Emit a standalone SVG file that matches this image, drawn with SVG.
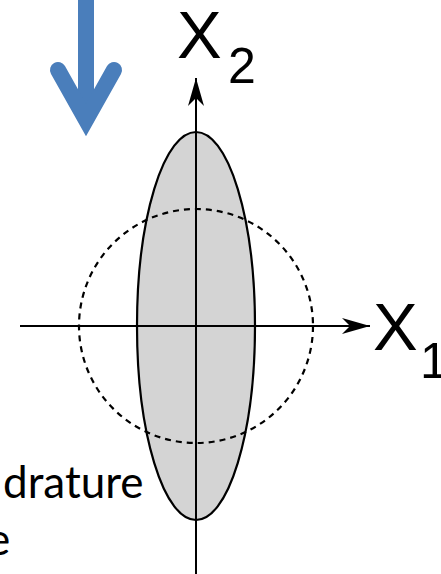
<svg xmlns="http://www.w3.org/2000/svg" width="441" height="574" viewBox="0 0 441 574">
<style>
.ax{stroke:#000;stroke-width:2;fill:none}
.lbl{font-family:"Liberation Sans",Arial,sans-serif;fill:#000}
.txt{font-family:Lato,"Open Sans",sans-serif;fill:#000;font-size:44px}
</style>
<defs>
<marker id="ah" markerUnits="userSpaceOnUse" markerWidth="30" markerHeight="20" refX="28" refY="9" orient="auto" viewBox="0 0 30 18">
<path d="M0,1 L28,9 L0,17 L8,9 Z" fill="#000"/>
</marker>
</defs>
<rect width="441" height="574" fill="#fff"/>
<g id="ellipse">
<ellipse cx="196" cy="326" rx="59" ry="194" fill="#d4d4d4" stroke="#000" stroke-width="2.2"/>
</g>
<g id="connectors">
<line class="ax" x1="20" y1="326" x2="370" y2="326" marker-end="url(#ah)"/>
<line class="ax" x1="196" y1="574" x2="196" y2="78" marker-end="url(#ah)"/>
</g>
<g id="circle">
<circle cx="196" cy="326" r="117" fill="none" stroke="#000" stroke-width="2.2" stroke-dasharray="6,5"/>
</g>
<g id="arrow">
<line x1="86" y1="0" x2="86" y2="120" stroke="#4a7ebb" stroke-width="16"/>
<polyline points="58,70 86,120 114,70" fill="none" stroke="#4a7ebb" stroke-width="16" stroke-linecap="round" stroke-linejoin="miter" stroke-miterlimit="10"/>
</g>
<g id="label-x2">
<text class="lbl" x="177" y="58" font-size="67">X</text>
<text class="lbl" x="228" y="83" font-size="50">2</text>
</g>
<g id="label-x1">
<text class="lbl" x="373" y="350" font-size="67">X</text>
<text class="lbl" x="420" y="378" font-size="50">1</text>
</g>
<g id="caption">
<text class="txt" x="3" y="498">drature</text>
<text class="txt" x="-13" y="555">e</text>
</g>
</svg>
